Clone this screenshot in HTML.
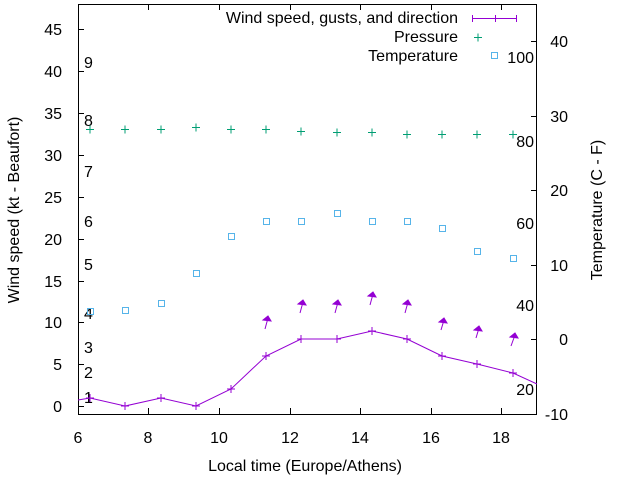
<!DOCTYPE html>
<html><head><meta charset="utf-8"><style>
html,body{margin:0;padding:0;background:#fff}
svg{display:block;font-family:"Liberation Sans",sans-serif}
</style></head><body>
<svg width="640" height="480" viewBox="0 0 640 480" xmlns="http://www.w3.org/2000/svg">
<rect width="640" height="480" fill="#fff"/>
<g stroke="#000" stroke-width="1" fill="none">
<rect x="78.5" y="4.5" width="458" height="410"/>
<path d="M78 406.5h6M78 364.5h6M78 322.5h6M78 281.5h6M78 239.5h6M78 197.5h6M78 155.5h6M78 113.5h6M78 71.5h6M78 29.5h6"/>
<path d="M537 414.5h-6M537 339.5h-6M537 265.5h-6M537 190.5h-6M537 116.5h-6M537 41.5h-6"/>
<path d="M148.5 414v-6M219.5 414v-6M290.5 414v-6M360.5 414v-6M431.5 414v-6M501.5 414v-6M148.5 4v6M219.5 4v6M290.5 4v6M360.5 4v6M431.5 4v6M501.5 4v6"/>
</g>
<g font-size="16" fill="#000" text-anchor="end">
<text x="62" y="412">0</text><text x="62" y="370">5</text><text x="62" y="328">10</text><text x="62" y="287">15</text><text x="62" y="245">20</text><text x="62" y="203">25</text><text x="62" y="161">30</text><text x="62" y="119">35</text><text x="62" y="77">40</text><text x="62" y="35">45</text>
</g>
<g font-size="16" fill="#000" text-anchor="end">
<text x="568" y="420">-10</text><text x="568" y="345">0</text><text x="568" y="271">10</text><text x="568" y="196">20</text><text x="568" y="122">30</text><text x="568" y="47">40</text>
</g>
<g font-size="16" fill="#000" text-anchor="middle">
<text x="78" y="443">6</text><text x="148" y="443">8</text><text x="219" y="443">10</text><text x="290" y="443">12</text><text x="360" y="443">14</text><text x="431" y="443">16</text><text x="501" y="443">18</text>
<text x="305" y="471">Local time (Europe/Athens)</text>
<text transform="translate(19,210) rotate(-90)">Wind speed (kt - Beaufort)</text>
<text transform="translate(602,210) rotate(-90)">Temperature (C - F)</text>
</g>
<g font-size="16" fill="#000">
<text x="84" y="403">1</text><text x="84" y="378">2</text><text x="84" y="353">3</text><text x="84" y="319">4</text><text x="84" y="270">5</text><text x="84" y="227">6</text><text x="84" y="177">7</text><text x="84" y="126">8</text><text x="84" y="68">9</text>
<text x="534" y="63" text-anchor="end">100</text><text x="534" y="147" text-anchor="end">80</text><text x="534" y="229" text-anchor="end">60</text><text x="534" y="311" text-anchor="end">40</text><text x="534" y="395" text-anchor="end">20</text>
</g>
<g font-size="16" fill="#000" text-anchor="end">
<text x="458" y="23">Wind speed, gusts, and direction</text>
<text x="458" y="42">Pressure</text>
<text x="458" y="61">Temperature</text>
</g>
<g stroke="#9400d3" stroke-width="1" fill="none">
<path d="M472 18.5h44M472.5 15v7M495.5 15v7M516.5 15v7"/>
<polyline points="78,400 90,398 125,406 161,398 196,406 231,389 266,356 301,339 337,339 372,331 407,339 442,356 477,364 513,373 537,384"/>
<path d="M90 394v8M86 398h8M125 402v8M121 406h8M161 394v8M157 398h8M196 402v8M192 406h8M231 385v8M227 389h8M266 352v8M262 356h8M301 335v8M297 339h8M337 335v8M333 339h8M372 327v8M368 331h8M407 335v8M403 339h8M442 352v8M438 356h8M477 360v8M473 364h8M513 369v8M509 373h8"/>
</g>
<g stroke="#9400d3" stroke-width="1" fill="#9400d3">
<path d="M265 329L268 318"/><polygon points="263,320 268,316 271,321"/>
<path d="M300 313L303 302"/><polygon points="298,304 303,300 306,305"/>
<path d="M335 313L338 302"/><polygon points="333,304 338,300 341,305"/>
<path d="M370 305L373 294"/><polygon points="368,296 373,292 376,297"/>
<path d="M405 313L408 302"/><polygon points="403,304 408,300 411,305"/>
<path d="M441 330L444 320"/><polygon points="439,322 444,318 447,323"/>
<path d="M476 338L479 328"/><polygon points="474,330 479,326 482,331"/>
<path d="M511 346L515 335"/><polygon points="510,337 515,333 518,338"/>
</g>
<g stroke="#009e73" stroke-width="1">
<path d="M474 37.5h8M478 33.5v8"/>
<path d="M86 129.5h8M90 125.5v8M121 129.5h8M125 125.5v8M157 129.5h8M161 125.5v8M192 127.5h8M196 123.5v8M227 129.5h8M231 125.5v8M262 129.5h8M266 125.5v8M297 131.5h8M301 127.5v8M333 132.5h8M337 128.5v8M368 132.5h8M372 128.5v8M403 134.5h8M407 130.5v8M438 134.5h8M442 130.5v8M473 134.5h8M477 130.5v8M509 134.5h8M513 130.5v8"/>
</g>
<g stroke="#56b4e9" stroke-width="1" fill="none">
<rect x="491.5" y="52.5" width="6" height="6"/>
<rect x="87.5" y="308.5" width="6" height="6"/><rect x="122.5" y="307.5" width="6" height="6"/><rect x="158.5" y="300.5" width="6" height="6"/><rect x="193.5" y="270.5" width="6" height="6"/><rect x="228.5" y="233.5" width="6" height="6"/><rect x="263.5" y="218.5" width="6" height="6"/><rect x="298.5" y="218.5" width="6" height="6"/><rect x="334.5" y="210.5" width="6" height="6"/><rect x="369.5" y="218.5" width="6" height="6"/><rect x="404.5" y="218.5" width="6" height="6"/><rect x="439.5" y="225.5" width="6" height="6"/><rect x="474.5" y="248.5" width="6" height="6"/><rect x="510.5" y="255.5" width="6" height="6"/>
</g>
</svg>
</body></html>
